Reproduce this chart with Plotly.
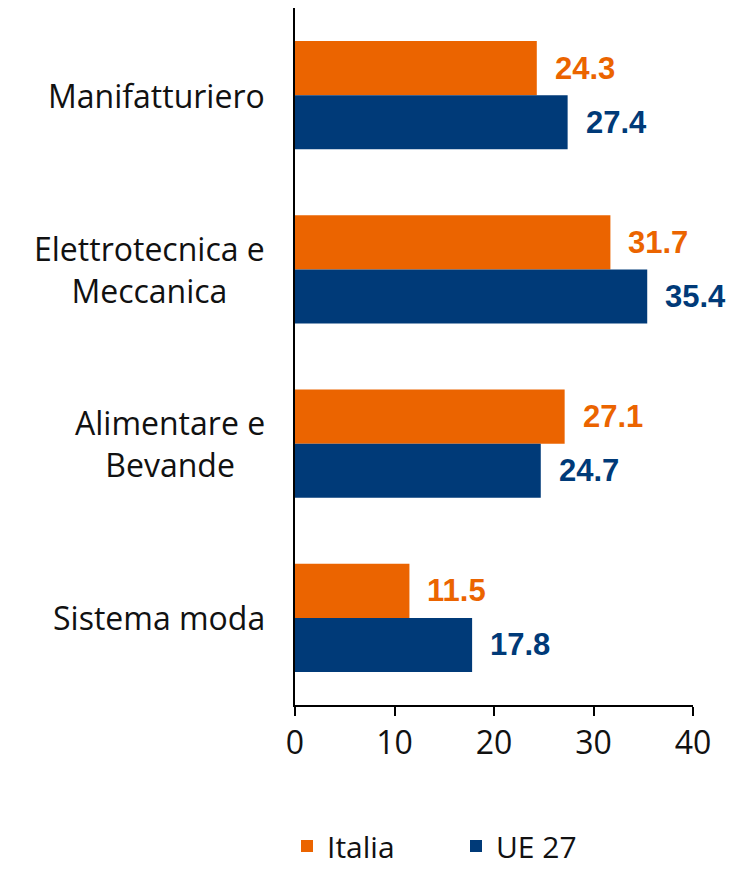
import plotly.graph_objects as go

categories = ["Manifatturiero", "Elettrotecnica e<br>Meccanica", "Alimentare e<br>Bevande", "Sistema moda"]
italia = [24.3, 31.7, 27.1, 11.5]
ue27 = [27.4, 35.4, 24.7, 17.8]
x_ticks = [0, 10, 20, 30, 40]

ORANGE = "#EB6400"
BLUE = "#003A78"
FONT = "Open Sans, DejaVu Sans, sans-serif"

fig = go.Figure()
fig.add_trace(go.Bar(y=categories, x=italia, name="Italia", orientation="h",
                     marker=dict(color=ORANGE, line=dict(width=0))))
fig.add_trace(go.Bar(y=categories, x=ue27, name="UE 27", orientation="h",
                     marker=dict(color=BLUE, line=dict(width=0))))

ann = []
for i, c in enumerate(categories):
    ann.append(dict(x=italia[i], y=c, xref="x", yref="y", text=f"<b>{italia[i]:.1f}</b>",
                    showarrow=False, xanchor="left", yshift=27, xshift=16,
                    font=dict(color=ORANGE, size=31, family="Arial, Liberation Sans")))
    ann.append(dict(x=ue27[i], y=c, xref="x", yref="y", text=f"<b>{ue27[i]:.1f}</b>",
                    showarrow=False, xanchor="left", yshift=-27, xshift=16,
                    font=dict(color=BLUE, size=31, family="Arial, Liberation Sans")))
    ann.append(dict(x=0, y=c, xref="paper", yref="y", text=c, showarrow=False,
                    xanchor="right", align="center", xshift=-28,
                    font=dict(color="#111111", size=32, family=FONT)))

W, H = 732, 862
fig.update_layout(
    width=W, height=H,
    margin=dict(l=287, r=47, t=0, b=165, autoexpand=False),
    barmode="group", bargap=0.38, bargroupgap=0,
    plot_bgcolor="white", paper_bgcolor="white",
    font=dict(family=FONT, size=32, color="#111111"),
    showlegend=True,
    legend=dict(orientation="h", xref="container", yref="container",
                x=279 / W, xanchor="left", y=1 - 812 / H, yanchor="top",
                traceorder="normal", font=dict(size=30), itemwidth=30,
                entrywidth=124, entrywidthmode="pixels"),
    annotations=ann,
)
fig.update_xaxes(range=[0, 40], tickvals=x_ticks, showgrid=False, zeroline=False,
                 showline=True, linecolor="black", linewidth=1.5,
                 ticks="outside", ticklen=9, tickwidth=1.5, tickcolor="black",
                 tickfont=dict(size=32))
fig.update_yaxes(autorange="reversed", showticklabels=False, showgrid=False,
                 showline=True, linecolor="black", linewidth=1.5, ticks="")

fig.write_html("out.html")
